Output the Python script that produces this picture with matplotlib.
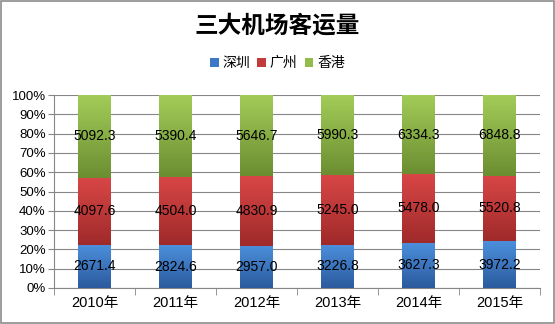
import numpy as np
import matplotlib
matplotlib.use("Agg")
from matplotlib import pyplot as plt
from matplotlib.colors import LinearSegmentedColormap
from matplotlib.patches import Rectangle

plt.rcParams['font.family'] = ['Liberation Sans', 'Noto Sans CJK SC', 'DejaVu Sans']

years = ['2010年', '2011年', '2012年', '2013年', '2014年', '2015年']
shenzhen = [2671.4, 2824.6, 2957.0, 3226.8, 3627.3, 3972.2]
guangzhou = [4097.6, 4504.0, 4830.9, 5245.0, 5478.0, 5520.8]
hongkong = [5092.3, 5390.4, 5646.7, 5990.3, 6334.3, 6848.8]

series = [('深圳', shenzhen, '#3d78c6', '#4c8fdc', '#2b5b9e'),
          ('广州', guangzhou, '#c23a3a', '#d84646', '#a02a2a'),
          ('香港', hongkong, '#93bc4b', '#a2cc58', '#6c8e32')]

totals = np.array(shenzhen) + np.array(guangzhou) + np.array(hongkong)
x = np.arange(len(years))

fig = plt.figure(figsize=(5.55, 3.24), dpi=100)
ax = fig.add_axes([54 / 555, 36 / 324, 486 / 555, 193 / 324])

# vertical gradient for each bar segment (dark at bottom, light at top)
grad = np.linspace(0, 1, 64).reshape(-1, 1)
bottom = np.zeros(len(years))
for name, vals, col, top_c, bot_c in series:
    frac = np.array(vals) / totals
    bars = ax.bar(x, frac, 0.4, bottom=bottom, color=col, label=name, zorder=2)
    cmap = LinearSegmentedColormap.from_list(name, [bot_c, top_c])
    for b in bars:
        x0, y0 = b.get_x(), b.get_y()
        im = ax.imshow(grad, cmap=cmap, origin='lower', aspect='auto',
                       extent=[x0, x0 + b.get_width(), y0, y0 + b.get_height()], zorder=3)
        im.set_clip_path(b)
    for i in range(len(years)):
        ax.text(x[i], bottom[i] + frac[i] / 2, '%.1f' % vals[i], ha='center', va='center',
                fontsize=10, color='black', zorder=5)
    bottom += frac

ax.set_xlim(-0.5, 5.5)
ax.set_ylim(0, 1)
ax.set_yticks(np.linspace(0, 1, 11))
ax.set_yticklabels(['%d%%' % v for v in range(0, 101, 10)], fontsize=9.5)
ax.set_xticks(x)
ax.set_xticklabels(years, fontsize=10.5)
ax.set_xticks(np.arange(-0.5, 6, 1), minor=True)
ax.tick_params(axis='x', which='major', length=0, pad=6)
ax.tick_params(axis='x', which='minor', length=5, color='#868686')
ax.tick_params(axis='y', length=4, color='#868686', pad=2)
ax.grid(axis='y', color='#868686', linewidth=0.8, zorder=0)
ax.set_axisbelow(True)
for s in ['top', 'right']:
    ax.spines[s].set_visible(False)
for s in ['left', 'bottom']:
    ax.spines[s].set_color('#868686')
    ax.spines[s].set_linewidth(0.8)

fig.text(0.5, 1 - 25 / 324, '三大机场客运量', ha='center', va='center', fontsize=17,
         fontweight='bold', family=['Noto Sans CJK SC'])
fig.legend(loc='center', bbox_to_anchor=(0.5, 1 - 63 / 324), ncol=3, frameon=False,
           fontsize=10, handlelength=0.6, handleheight=0.6, handletextpad=0.3,
           columnspacing=0.5, borderpad=0)

fig.add_artist(Rectangle((0.001, 0.003), 0.997, 0.995, transform=fig.transFigure,
                         fill=False, edgecolor='#8c8c8c', linewidth=1.2))

fig.savefig('out.png', dpi=100)
